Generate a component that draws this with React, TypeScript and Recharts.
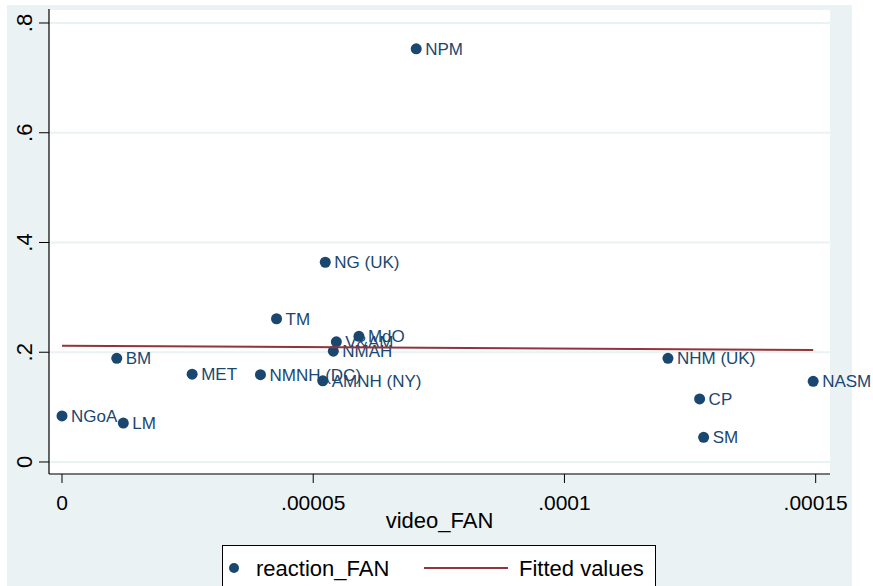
import { ScatterChart, Scatter, XAxis, YAxis, CartesianGrid } from 'recharts'

const museums = ['NPM', 'NG (UK)', 'TM', 'MdO', 'V&AM', 'NMAH', 'BM', 'NHM (UK)', 'MET', 'NMNH (DC)', 'AMNH (NY)', 'NASM', 'CP', 'NGoA', 'LM', 'SM']
const videoFan = [0.0000705, 0.0000524, 0.0000427, 0.0000591, 0.0000546, 0.000054, 0.0000109, 0.0001206, 0.0000259, 0.0000395, 0.0000519, 0.0001495, 0.0001269, 0, 0.0000122, 0.0001277]
const reactionFan = [0.753, 0.364, 0.261, 0.229, 0.219, 0.202, 0.189, 0.189, 0.16, 0.159, 0.148, 0.147, 0.115, 0.084, 0.071, 0.045]

const fitX = [0, 0.0001495]
const fitY = [0.212, 0.204]

const xTicks = [0, 0.00005, 0.0001, 0.00015]
const xTickLabels = ['0', '.00005', '.0001', '.00015']
const yTicks = [0, 0.2, 0.4, 0.6, 0.8]
const yTickLabels = ['0', '.2', '.4', '.6', '.8']

const NAVY = '#1a476f'
const MAROON = '#90353b'
const BG = '#eaf2f3'
const FONT = '"Liberation Sans", Arial, Helvetica, sans-serif'

const points = museums.map((name, i) => ({ name, x: videoFan[i], y: reactionFan[i] }))
const fitted = fitX.map((x, i) => ({ x, y: fitY[i] }))

const PointShape = (props: any) => {
  const { cx, cy, payload } = props
  return (
    <g>
      <circle cx={cx} cy={cy} r={5.5} fill={NAVY} />
      <text x={cx + 9} y={cy + 6} fontSize={17} fill={NAVY} fontFamily={FONT}>
        {payload.name}
      </text>
    </g>
  )
}

const XTick = (props: any) => {
  const { x, y, index } = props
  return (
    <text x={x} y={y + 25} textAnchor="middle" fontSize={21} fill="#000" fontFamily={FONT}>
      {xTickLabels[index]}
    </text>
  )
}

const YTick = (props: any) => {
  const { y, index } = props
  return (
    <text x={32} y={y} transform={`rotate(-90, 32, ${y})`} textAnchor="middle" fontSize={22} fill="#000" fontFamily={FONT}>
      {yTickLabels[index]}
    </text>
  )
}

export default function App() {
  return (
    <div style={{ position: 'absolute', left: 0, top: 0, width: 873, height: 586, background: '#fff', overflow: 'hidden', fontFamily: FONT }}>
      <div style={{ position: 'absolute', left: 7, top: 5, width: 845, height: 581, background: BG }} />
      <div style={{ position: 'absolute', left: 0, top: 0 }}>
        <ScatterChart width={873} height={586} margin={{ top: 9, right: 43, bottom: 0, left: 0 }} style={{ overflow: 'visible' }}>
          <CartesianGrid vertical={false} fill="#fff" stroke={BG} strokeWidth={2} />
          <XAxis
            type="number"
            dataKey="x"
            domain={[-0.000002587, 0.00015285]}
            ticks={xTicks}
            tick={<XTick />}
            tickSize={9}
            height={112}
            axisLine={{ stroke: '#000', strokeWidth: 1.2 }}
            tickLine={{ stroke: '#000' }}
            label={{ value: 'video_FAN', position: 'insideTop', offset: 38, fontSize: 22, fill: '#000', fontFamily: FONT }}
          />
          <YAxis
            type="number"
            dataKey="y"
            domain={[-0.0219, 0.8255]}
            ticks={yTicks}
            tick={<YTick />}
            tickSize={10}
            width={49}
            axisLine={{ stroke: '#000', strokeWidth: 1.2 }}
            tickLine={{ stroke: '#000' }}
          />
          <Scatter data={points} shape={<PointShape />} isAnimationActive={false} />
          <Scatter
            data={fitted}
            line={{ stroke: MAROON, strokeWidth: 2 }}
            shape={() => <g />}
            isAnimationActive={false}
          />
        </ScatterChart>
      </div>
      <div
        style={{
          position: 'absolute',
          left: 222,
          top: 545,
          width: 432,
          height: 60,
          background: '#fff',
          border: '1px solid #000',
        }}
      >
        <svg width={432} height={60} style={{ position: 'absolute', left: 0, top: 0 }}>
          <circle cx={11} cy={22} r={5} fill={NAVY} />
          <text x={33} y={30} fontSize={22} fontFamily={FONT} fill="#000">reaction_FAN</text>
          <line x1={201} x2={285} y1={22} y2={22} stroke={MAROON} strokeWidth={2} />
          <text x={296} y={30} fontSize={22} fontFamily={FONT} fill="#000">Fitted values</text>
        </svg>
      </div>
    </div>
  )
}
